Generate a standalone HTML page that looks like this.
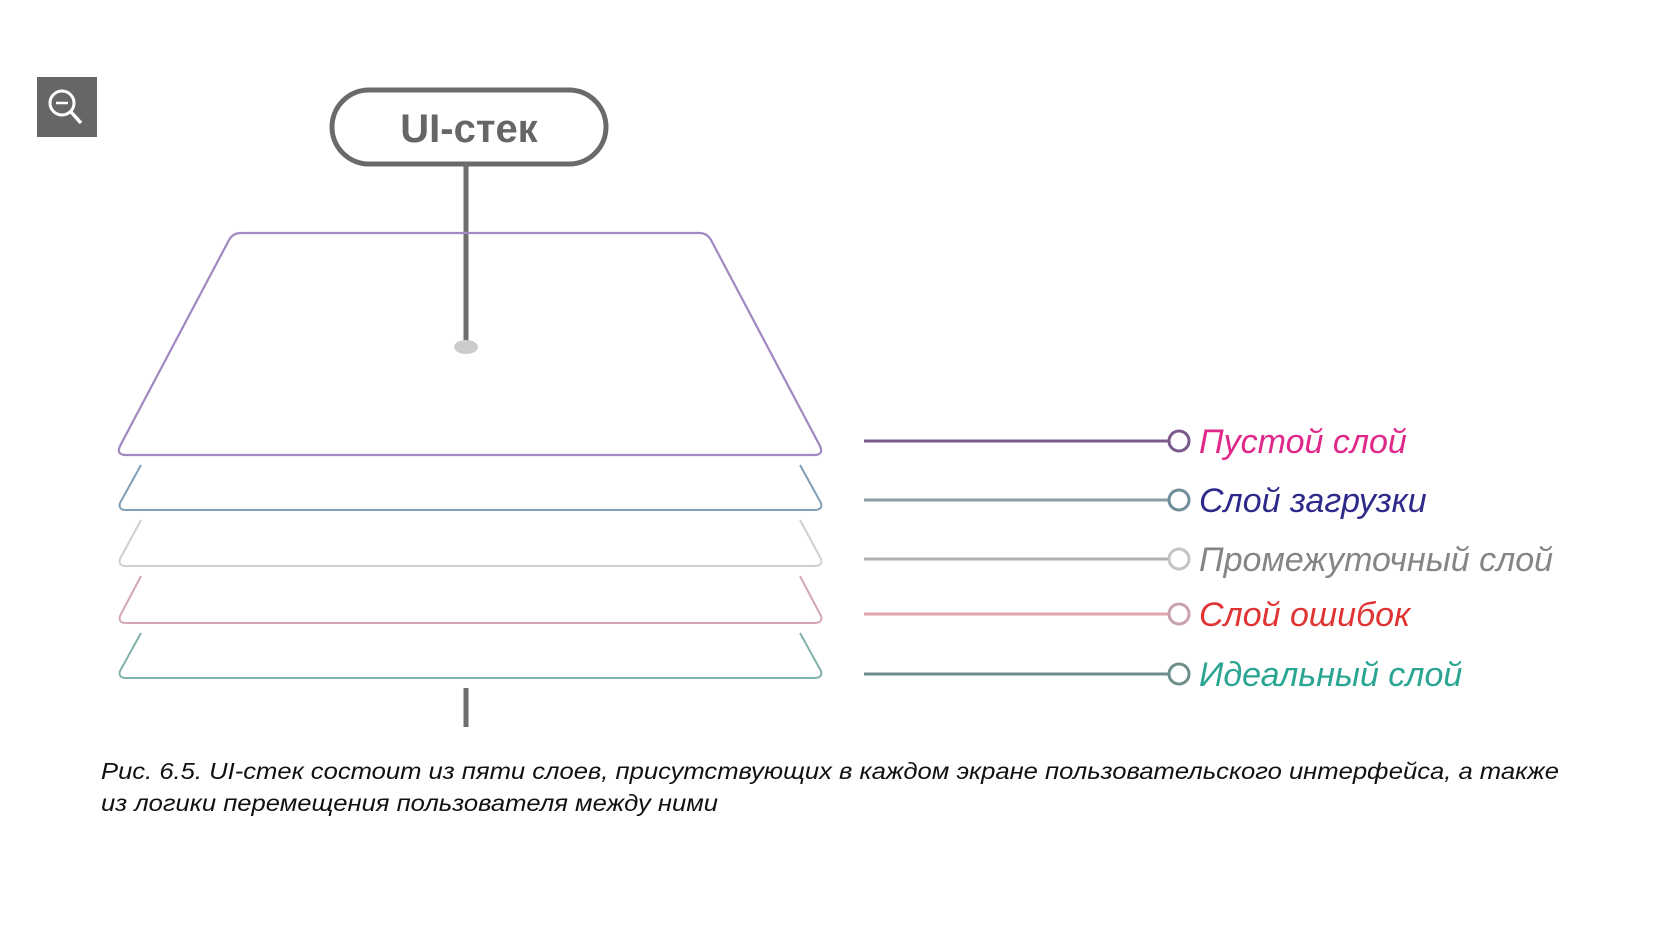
<!DOCTYPE html>
<html><head><meta charset="utf-8"><style>
html,body{margin:0;padding:0;background:#fff;}
body{width:1674px;height:938px;position:relative;overflow:hidden;font-family:"Liberation Sans","DejaVu Sans",sans-serif;}
svg{position:absolute;left:0;top:0;}
</style></head><body>
<svg width="1674" height="938">
  <g>
    <rect x="37" y="77" width="60" height="60" fill="#666"/>
    <circle cx="62" cy="103" r="12" fill="none" stroke="#fff" stroke-width="3"/>
    <line x1="56" y1="103" x2="68" y2="103" stroke="#fff" stroke-width="2.5"/>
    <line x1="71" y1="112" x2="81" y2="123" stroke="#fff" stroke-width="3.5"/>
  </g>
  <g>
    <rect x="332" y="90" width="274" height="74" rx="37" fill="#fff" stroke="#6a6a6a" stroke-width="5"/>
    <text x="469" y="142" text-anchor="middle" font-size="40" font-weight="bold" fill="#666" font-family="Liberation Sans, DejaVu Sans, sans-serif">UI-стек</text>
  </g>
  <line x1="466" y1="164" x2="466" y2="347" stroke="#6e6e6e" stroke-width="5"/>
  <ellipse cx="466" cy="347" rx="12" ry="7" fill="#ccc"/>
  <path d="M241,233 L699,233 Q707,233 711,240 L820,446 Q824,455 814,455 L126,455 Q116,455 120,446 L229,240 Q233,233 241,233 Z" fill="none" stroke="#a088c0" stroke-width="2.2"/>
  <g id="layers"></g>
  <line x1="466" y1="688" x2="466" y2="727" stroke="#6e6e6e" stroke-width="5"/>
  <g id="legend"></g>
  <text x="101" y="779" font-size="23.5" font-style="italic" fill="#111" textLength="1458" lengthAdjust="spacingAndGlyphs">Рис. 6.5. UI-стек состоит из пяти слоев, присутствующих в каждом экране пользовательского интерфейса, а также</text>
  <text x="101" y="811" font-size="23.5" font-style="italic" fill="#111" textLength="617" lengthAdjust="spacingAndGlyphs">из логики перемещения пользователя между ними</text>
</svg>
<script>
const layerTops = [465, 520, 576, 633];
const layerBottoms = [510, 566, 623, 678];
const layerColors = ["#7f9fb6", "#cfcfcf", "#d4a6b6", "#7fb2aa"];
const legendLabels = ["Пустой слой", "Слой загрузки", "Промежуточный слой", "Слой ошибок", "Идеальный слой"];
const legendY = [441, 500, 559, 614, 674];
const legendLineColors = ["#7a5a8c", "#8a9ca4", "#b0b0b0", "#e2a4ae", "#6e8e8a"];
const legendCircleColors = ["#7a5a8c", "#6f8e9a", "#c4c4c4", "#c9a0b0", "#6e8e8a"];
const legendTextColors = ["#e0288a", "#2e2a8a", "#858585", "#e03434", "#2aa592"];
const NS = "http://www.w3.org/2000/svg";
const lg = document.getElementById("layers");
layerTops.forEach((t, i) => {
  const b = layerBottoms[i];
  const p = document.createElementNS(NS, "path");
  p.setAttribute("d", `M141,${t} L120,${b-7} Q118,${b} 126,${b} L814,${b} Q823,${b} 821,${b-7} L800,${t}`);
  p.setAttribute("fill", "none");
  p.setAttribute("stroke", layerColors[i]);
  p.setAttribute("stroke-width", "2");
  
  
  lg.appendChild(p);
});
const leg = document.getElementById("legend");
legendLabels.forEach((lab, i) => {
  const y = legendY[i];
  const g = document.createElementNS(NS, "g");
  
  
  const l = document.createElementNS(NS, "line");
  l.setAttribute("x1", 864); l.setAttribute("x2", 1168);
  l.setAttribute("y1", y); l.setAttribute("y2", y);
  l.setAttribute("stroke", legendLineColors[i]); l.setAttribute("stroke-width", "3");
  g.appendChild(l);
  const c = document.createElementNS(NS, "circle");
  c.setAttribute("cx", 1179); c.setAttribute("cy", y); c.setAttribute("r", 10);
  c.setAttribute("fill", "#fff"); c.setAttribute("stroke", legendCircleColors[i]); c.setAttribute("stroke-width", "3");
  g.appendChild(c);
  const tx = document.createElementNS(NS, "text");
  tx.setAttribute("x", 1199); tx.setAttribute("y", y + 12);
  tx.setAttribute("font-size", "34"); tx.setAttribute("font-style", "italic");
  tx.setAttribute("fill", legendTextColors[i]);
  tx.textContent = lab;
  g.appendChild(tx);
  leg.appendChild(g);
});
</script>
</body></html>
